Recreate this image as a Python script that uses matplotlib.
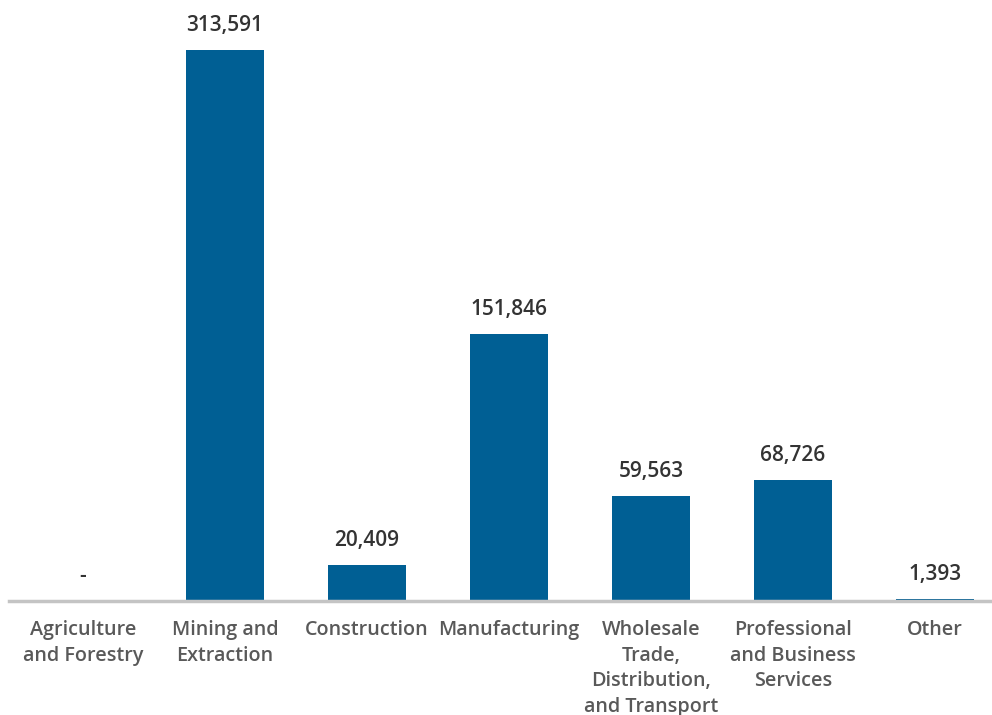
import numpy as np
import matplotlib.pyplot as plt

categories = ['Agriculture\nand Forestry', 'Mining and\nExtraction', 'Construction',
              'Manufacturing', 'Wholesale\nTrade,\nDistribution,\nand Transport',
              'Professional\nand Business\nServices', 'Other']
values = [0, 313591, 20409, 151846, 59563, 68726, 1393]
value_labels = ['-', '313,591', '20,409', '151,846', '59,563', '68,726', '1,393']

plt.rcParams['font.family'] = ['Open Sans', 'DejaVu Sans']

fig = plt.figure(figsize=(9.92, 7.15), dpi=100)
ax = fig.add_axes([9 / 992, 114 / 715, 983 / 992, 601 / 715])

x = np.arange(len(categories))
ax.bar(x, values, width=0.555, color='#005F94')

for xi, v, lab in zip(x, values, value_labels):
    ax.annotate(lab, (xi, v), xytext=(0, 10), textcoords='offset points',
                ha='center', va='bottom', fontsize=15, color='#333333',
                fontweight='semibold')

ax.set_xlim(-0.521, 6.402)
ax.set_ylim(0, 342050)
ax.set_xticks(x)
ax.set_xticklabels(categories, fontsize=14.2, color='#595959', fontweight='semibold',
                   linespacing=1.36)
ax.tick_params(axis='x', length=0, pad=14)
ax.set_yticks([])
for s in ['top', 'right', 'left']:
    ax.spines[s].set_visible(False)
ax.spines['bottom'].set_color('#c4c4c4')
ax.spines['bottom'].set_linewidth(2.5)

fig.savefig('out.png', dpi=100)
